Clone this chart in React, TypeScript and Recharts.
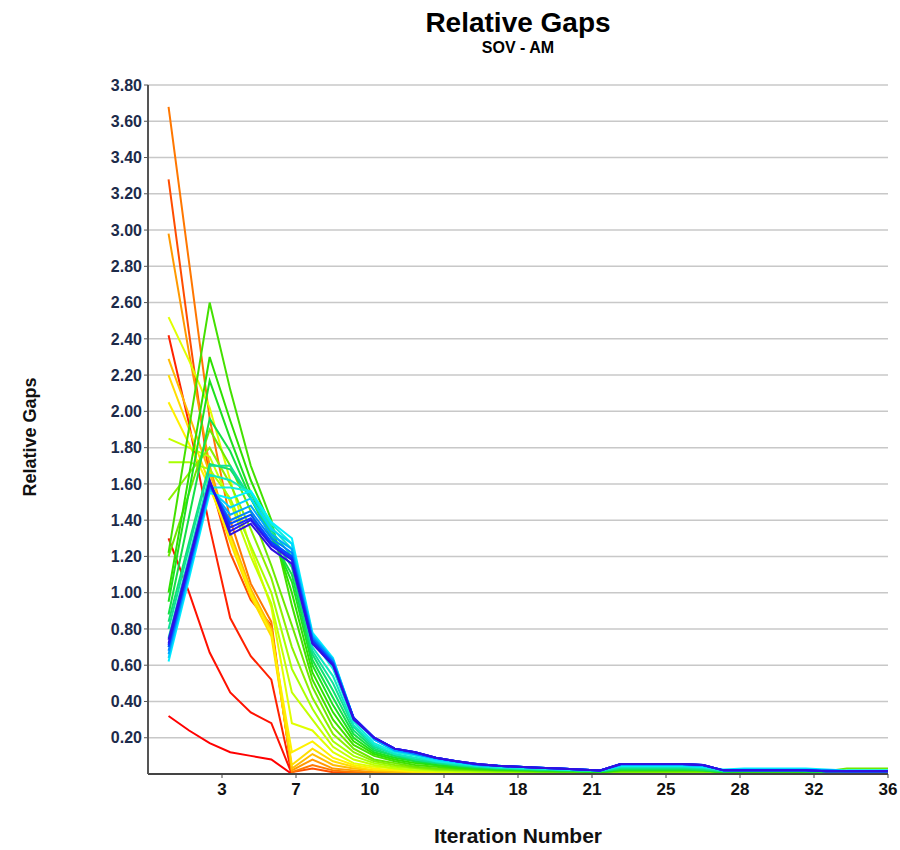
import React from "react";
import { LineChart, Line, XAxis, YAxis, CartesianGrid } from "recharts";

const FONT = "'Liberation Sans', Arial, sans-serif";

// iteration numbers on the x axis
const iterations = [
  1, 2, 3, 4, 5, 6, 7, 8, 9, 10, 11, 12, 13, 14, 15, 16, 17, 18, 19, 20, 21, 22, 23, 24, 25, 26,
  27, 28, 29, 30, 31, 32, 33, 34, 35, 36,
];

const xTickValues = [3.6, 7.2, 10.8, 14.4, 18, 21.6, 25.2, 28.8, 32.4, 36];
const xTickLabels = ["3", "7", "10", "14", "18", "21", "25", "28", "32", "36"];
const yTickValues = [
  0.2, 0.4, 0.6, 0.8, 1.0, 1.2, 1.4, 1.6, 1.8, 2.0, 2.2, 2.4, 2.6, 2.8, 3.0, 3.2, 3.4, 3.6, 3.8,
];

// relative gap per iteration, one array per run (red -> blue)
const s00 = [0.32, 0.24, 0.17, 0.12, 0.10, 0.08, 0, 0, 0, 0, 0, 0, 0, 0, 0, 0, 0, 0, 0, 0, 0, 0, 0, 0, 0, 0, 0, 0, 0, 0, 0, 0, 0, 0, 0, 0];
const s01 = [1.30, 1.00, 0.67, 0.45, 0.34, 0.28, 0, 0, 0, 0, 0, 0, 0, 0, 0, 0, 0, 0, 0, 0, 0, 0, 0, 0, 0, 0, 0, 0, 0, 0, 0, 0, 0, 0, 0, 0];
const s02 = [2.42, 1.93, 1.36, 0.86, 0.65, 0.52, 0, 0, 0, 0, 0, 0, 0, 0, 0, 0, 0, 0, 0, 0, 0, 0, 0, 0, 0, 0, 0, 0, 0, 0, 0, 0, 0, 0, 0, 0];
const s03 = [3.28, 2.43, 1.62, 1.22, 0.96, 0.82, 0.01, 0.03, 0.01, 0.01, 0, 0, 0, 0, 0, 0, 0, 0, 0, 0, 0, 0, 0, 0, 0, 0, 0, 0, 0, 0, 0, 0, 0, 0, 0, 0];
const s04 = [3.68, 2.82, 1.96, 1.40, 1.05, 0.84, 0.01, 0.05, 0.02, 0.01, 0.01, 0.005, 0.005, 0.005, 0.005, 0.005, 0, 0, 0, 0, 0, 0, 0, 0, 0, 0, 0, 0, 0, 0, 0, 0, 0, 0, 0, 0];
const s05 = [2.98, 2.32, 1.70, 1.30, 1.00, 0.80, 0.02, 0.08, 0.03, 0.02, 0.01, 0.01, 0.01, 0.005, 0.005, 0.005, 0.005, 0, 0, 0.005, 0.005, 0, 0, 0, 0, 0, 0, 0, 0, 0, 0, 0, 0, 0, 0, 0];
const s06 = [2.29, 1.98, 1.66, 1.33, 1.02, 0.80, 0.03, 0.11, 0.05, 0.03, 0.02, 0.01, 0.01, 0.01, 0.005, 0.005, 0.005, 0.005, 0.005, 0.005, 0.005, 0.005, 0, 0, 0, 0, 0, 0, 0, 0, 0, 0, 0, 0, 0, 0];
const s07 = [2.20, 1.90, 1.60, 1.28, 0.98, 0.76, 0.05, 0.14, 0.07, 0.04, 0.02, 0.02, 0.01, 0.01, 0.01, 0.005, 0.005, 0.005, 0.005, 0.005, 0.005, 0.005, 0.005, 0.005, 0.005, 0, 0, 0, 0, 0, 0, 0, 0, 0, 0, 0];
const s08 = [2.05, 1.82, 1.58, 1.30, 1.00, 0.78, 0.12, 0.18, 0.09, 0.05, 0.03, 0.02, 0.015, 0.01, 0.01, 0.01, 0.005, 0.005, 0.005, 0.005, 0.005, 0.005, 0.005, 0.005, 0.005, 0.005, 0.005, 0, 0, 0, 0, 0, 0, 0, 0, 0];
const s09 = [2.52, 2.28, 2.02, 1.62, 1.24, 0.92, 0.28, 0.24, 0.12, 0.06, 0.04, 0.03, 0.02, 0.015, 0.01, 0.01, 0.01, 0.005, 0.005, 0.005, 0.005, 0.005, 0.005, 0.005, 0.005, 0.005, 0.005, 0.005, 0.005, 0, 0, 0, 0, 0, 0, 0];
const s10 = [1.85, 1.80, 1.75, 1.50, 1.20, 0.94, 0.45, 0.30, 0.15, 0.08, 0.05, 0.03, 0.02, 0.02, 0.015, 0.01, 0.01, 0.01, 0.01, 0.005, 0.005, 0.005, 0.005, 0.005, 0.005, 0.005, 0.005, 0.005, 0.005, 0.005, 0.005, 0, 0, 0, 0, 0];
const s11 = [1.72, 1.72, 1.68, 1.52, 1.26, 1.00, 0.58, 0.36, 0.18, 0.10, 0.06, 0.04, 0.03, 0.02, 0.02, 0.015, 0.01, 0.01, 0.01, 0.01, 0.01, 0.005, 0.01, 0.01, 0.01, 0.01, 0.01, 0.005, 0.01, 0.005, 0.005, 0.005, 0.005, 0.005, 0.005, 0.005];
const s12 = [1.51, 1.66, 1.80, 1.60, 1.35, 1.08, 0.70, 0.42, 0.22, 0.12, 0.07, 0.05, 0.035, 0.025, 0.02, 0.02, 0.015, 0.015, 0.01, 0.01, 0.01, 0.01, 0.01, 0.01, 0.01, 0.01, 0.01, 0.01, 0.01, 0.01, 0.01, 0.01, 0.01, 0.01, 0.01, 0.01];
const s13 = [1.20, 1.55, 1.90, 1.70, 1.45, 1.15, 0.82, 0.48, 0.26, 0.14, 0.08, 0.06, 0.04, 0.03, 0.025, 0.02, 0.02, 0.015, 0.015, 0.01, 0.01, 0.01, 0.015, 0.015, 0.015, 0.015, 0.015, 0.01, 0.01, 0.01, 0.01, 0.01, 0.015, 0.03, 0.03, 0.03];
const s14 = [1.22, 1.91, 2.60, 2.12, 1.70, 1.40, 0.93, 0.52, 0.30, 0.16, 0.10, 0.07, 0.05, 0.04, 0.03, 0.025, 0.02, 0.02, 0.015, 0.015, 0.015, 0.01, 0.02, 0.02, 0.02, 0.02, 0.02, 0.01, 0.01, 0.01, 0.01, 0.01, 0.01, 0.01, 0.015, 0.015];
const s15 = [1.00, 1.65, 2.30, 1.95, 1.62, 1.36, 1.00, 0.56, 0.34, 0.18, 0.11, 0.08, 0.06, 0.05, 0.035, 0.03, 0.025, 0.02, 0.02, 0.015, 0.015, 0.01, 0.02, 0.02, 0.02, 0.02, 0.02, 0.01, 0.015, 0.015, 0.015, 0.01, 0.01, 0.01, 0.01, 0.01];
const s16 = [0.95, 1.56, 2.17, 1.85, 1.55, 1.32, 1.06, 0.60, 0.38, 0.20, 0.12, 0.09, 0.07, 0.05, 0.04, 0.03, 0.025, 0.025, 0.02, 0.02, 0.015, 0.015, 0.025, 0.025, 0.025, 0.025, 0.02, 0.01, 0.015, 0.015, 0.015, 0.015, 0.01, 0.01, 0.01, 0.01];
const s17 = [0.88, 1.42, 1.96, 1.78, 1.52, 1.30, 1.10, 0.63, 0.42, 0.22, 0.13, 0.10, 0.07, 0.06, 0.045, 0.035, 0.03, 0.025, 0.02, 0.02, 0.015, 0.015, 0.025, 0.025, 0.025, 0.025, 0.02, 0.015, 0.015, 0.015, 0.015, 0.015, 0.01, 0.01, 0.01, 0.01];
const s18 = [0.84, 1.28, 1.71, 1.68, 1.52, 1.32, 1.14, 0.66, 0.46, 0.24, 0.14, 0.10, 0.08, 0.06, 0.05, 0.04, 0.03, 0.03, 0.025, 0.02, 0.02, 0.015, 0.03, 0.03, 0.03, 0.03, 0.025, 0.015, 0.02, 0.02, 0.02, 0.015, 0.015, 0.01, 0.01, 0.01];
const s19 = [0.80, 1.25, 1.70, 1.70, 1.52, 1.34, 1.20, 0.68, 0.50, 0.26, 0.15, 0.11, 0.08, 0.065, 0.05, 0.04, 0.035, 0.03, 0.025, 0.025, 0.02, 0.015, 0.035, 0.035, 0.035, 0.035, 0.03, 0.015, 0.02, 0.02, 0.02, 0.02, 0.015, 0.015, 0.01, 0.01];
const s20 = [0.75, 1.20, 1.65, 1.62, 1.55, 1.36, 1.24, 0.70, 0.54, 0.27, 0.16, 0.11, 0.09, 0.07, 0.055, 0.045, 0.035, 0.03, 0.03, 0.025, 0.02, 0.02, 0.04, 0.04, 0.04, 0.04, 0.035, 0.02, 0.02, 0.02, 0.02, 0.02, 0.015, 0.015, 0.015, 0.015];
const s21 = [0.70, 1.14, 1.58, 1.58, 1.56, 1.38, 1.27, 0.74, 0.58, 0.29, 0.17, 0.12, 0.10, 0.07, 0.06, 0.045, 0.04, 0.035, 0.03, 0.025, 0.02, 0.02, 0.045, 0.045, 0.045, 0.045, 0.04, 0.02, 0.025, 0.025, 0.025, 0.025, 0.02, 0.015, 0.015, 0.015];
const s22 = [0.62, 1.08, 1.55, 1.52, 1.56, 1.39, 1.30, 0.78, 0.64, 0.31, 0.19, 0.13, 0.11, 0.08, 0.065, 0.05, 0.045, 0.04, 0.035, 0.03, 0.025, 0.02, 0.045, 0.045, 0.045, 0.045, 0.04, 0.025, 0.03, 0.03, 0.03, 0.03, 0.025, 0.02, 0.02, 0.02];
const s23 = [0.64, 1.10, 1.57, 1.47, 1.52, 1.35, 1.27, 0.77, 0.63, 0.31, 0.19, 0.13, 0.11, 0.08, 0.065, 0.05, 0.045, 0.04, 0.035, 0.03, 0.025, 0.02, 0.05, 0.05, 0.05, 0.05, 0.045, 0.02, 0.025, 0.025, 0.025, 0.025, 0.02, 0.015, 0.015, 0.015];
const s24 = [0.66, 1.12, 1.58, 1.43, 1.48, 1.32, 1.24, 0.76, 0.63, 0.31, 0.19, 0.13, 0.11, 0.085, 0.07, 0.05, 0.045, 0.04, 0.035, 0.03, 0.025, 0.02, 0.05, 0.05, 0.05, 0.05, 0.045, 0.02, 0.02, 0.02, 0.02, 0.02, 0.02, 0.015, 0.015, 0.015];
const s25 = [0.68, 1.13, 1.59, 1.40, 1.45, 1.30, 1.22, 0.75, 0.62, 0.31, 0.20, 0.14, 0.11, 0.09, 0.07, 0.05, 0.045, 0.04, 0.035, 0.03, 0.025, 0.02, 0.055, 0.055, 0.055, 0.055, 0.05, 0.02, 0.02, 0.02, 0.02, 0.02, 0.02, 0.015, 0.015, 0.015];
const s26 = [0.70, 1.15, 1.60, 1.38, 1.43, 1.28, 1.20, 0.74, 0.61, 0.31, 0.20, 0.14, 0.12, 0.09, 0.07, 0.055, 0.045, 0.04, 0.035, 0.03, 0.025, 0.02, 0.055, 0.055, 0.055, 0.055, 0.05, 0.02, 0.02, 0.02, 0.02, 0.02, 0.015, 0.015, 0.015, 0.015];
const s27 = [0.71, 1.16, 1.61, 1.36, 1.41, 1.27, 1.19, 0.73, 0.61, 0.31, 0.20, 0.14, 0.12, 0.09, 0.07, 0.055, 0.045, 0.04, 0.035, 0.03, 0.025, 0.02, 0.055, 0.055, 0.055, 0.055, 0.05, 0.02, 0.02, 0.02, 0.02, 0.02, 0.015, 0.015, 0.015, 0.015];
const s28 = [0.72, 1.16, 1.61, 1.34, 1.40, 1.26, 1.18, 0.72, 0.60, 0.31, 0.20, 0.14, 0.12, 0.09, 0.07, 0.055, 0.045, 0.04, 0.035, 0.03, 0.025, 0.02, 0.055, 0.055, 0.055, 0.055, 0.05, 0.02, 0.02, 0.02, 0.02, 0.02, 0.015, 0.015, 0.015, 0.015];
const s29 = [0.74, 1.18, 1.62, 1.32, 1.38, 1.24, 1.16, 0.72, 0.60, 0.30, 0.20, 0.14, 0.12, 0.09, 0.07, 0.055, 0.045, 0.04, 0.035, 0.03, 0.025, 0.02, 0.055, 0.055, 0.055, 0.055, 0.05, 0.02, 0.02, 0.02, 0.02, 0.02, 0.015, 0.015, 0.015, 0.015];

const allSeries = [
  s00, s01, s02, s03, s04, s05, s06, s07, s08, s09, s10, s11, s12, s13, s14,
  s15, s16, s17, s18, s19, s20, s21, s22, s23, s24, s25, s26, s27, s28, s29,
];

const seriesColors = [
  "#ff0000", "#ff1100", "#ff2200", "#ff4d00", "#ff7700", "#ff9900", "#ffbb00", "#ffdd00",
  "#fff000", "#e0ff00", "#c4ff00", "#a8ff00", "#8cf000", "#6ee800", "#44e000", "#2ee000",
  "#1ee01e", "#14e046", "#10e070", "#10e098", "#10e8c0", "#10eedd", "#00f0ff", "#00d4ff",
  "#00a8ff", "#0080ff", "#0050ff", "#1830ff", "#2818f0", "#3010e0",
];

const chartData = iterations.map((it, i) => {
  const row: { [k: string]: number } = { iter: it };
  allSeries.forEach((s, k) => {
    row["s" + k] = s[i];
  });
  return row;
});

const App: React.FC = () => {
  return (
    <div
      style={{
        position: "relative",
        width: 900,
        height: 850,
        overflow: "hidden",
        fontFamily: FONT,
      }}
    >
      {/* page is exactly the window; no body margin, no scrollbars */}
      <style>{"body{margin:0;overflow:hidden}"}</style>
      <div
        style={{
          position: "absolute",
          left: 148,
          width: 740,
          top: 9,
          textAlign: "center",
          fontSize: 28,
          lineHeight: "28px",
          fontWeight: "bold",
          color: "#000",
        }}
      >
        Relative Gaps
      </div>
      <div
        style={{
          position: "absolute",
          left: 148,
          width: 740,
          top: 40,
          textAlign: "center",
          fontSize: 16,
          lineHeight: "16px",
          fontWeight: "bold",
          color: "#000",
        }}
      >
        SOV - AM
      </div>
      <div
        style={{
          position: "absolute",
          left: 30,
          top: 437,
          transform: "translate(-50%, -50%) rotate(-90deg)",
          whiteSpace: "nowrap",
          fontSize: 18,
          lineHeight: "18px",
          fontWeight: "bold",
          color: "#111",
        }}
      >
        Relative Gaps
      </div>
      <div
        style={{
          position: "absolute",
          left: 148,
          width: 740,
          top: 825,
          textAlign: "center",
          fontSize: 21,
          lineHeight: "21px",
          fontWeight: "bold",
          color: "#111",
        }}
      >
        Iteration Number
      </div>
      <div style={{ position: "absolute", left: 8, top: 8 }}>
        <LineChart
          width={892}
          height={842}
          data={chartData}
          margin={{ top: 77, right: 12, bottom: 36, left: 0 }}
        >
          <CartesianGrid vertical={false} stroke="#c8c8c8" strokeWidth={1.5} />
          <XAxis
            dataKey="iter"
            type="number"
            domain={[0, 36]}
            ticks={xTickValues}
            tickFormatter={(_v: number, i: number) => xTickLabels[i]}
            interval={0}
            height={40}
            tickSize={4}
            tickMargin={5}
            axisLine={{ stroke: "#444", strokeWidth: 2 }}
            tickLine={{ stroke: "#444" }}
            tick={{ fontSize: 17, fontWeight: "bold", fill: "#111", fontFamily: FONT }}
          />
          <YAxis
            type="number"
            domain={[0, 3.8]}
            ticks={yTickValues}
            tickFormatter={(v: number) => v.toFixed(2)}
            interval={0}
            width={140}
            tickSize={4}
            tickMargin={2}
            axisLine={{ stroke: "#555", strokeWidth: 2 }}
            tickLine={{ stroke: "#555" }}
            tick={{ fontSize: 16, fontWeight: "bold", fill: "#1c2b4a", fontFamily: FONT }}
          />
          {allSeries.map((_s, k) => (
            <Line
              key={k}
              type="linear"
              dataKey={"s" + k}
              stroke={seriesColors[k]}
              strokeWidth={2}
              dot={false}
              isAnimationActive={false}
            />
          ))}
        </LineChart>
      </div>
    </div>
  );
};

export default App;
